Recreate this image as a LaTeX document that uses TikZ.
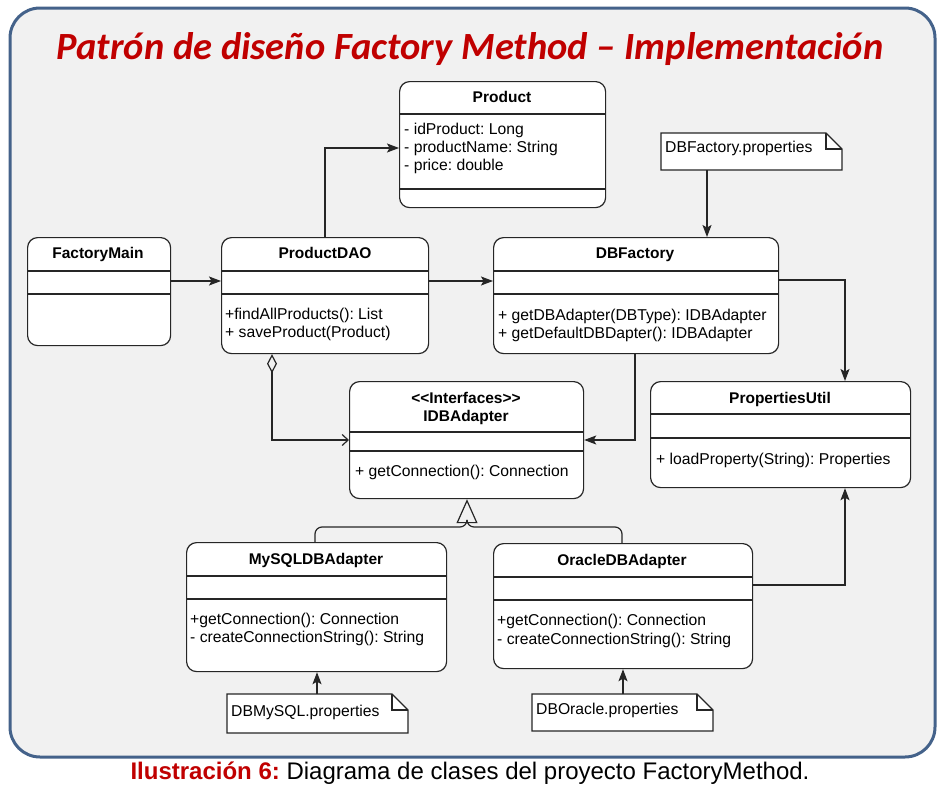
\documentclass[tikz,border=0pt]{standalone}
\usepackage{fontspec}
\setmainfont{Liberation Sans}
\newfontfamily\titlefont{Carlito}
\usetikzlibrary{arrows.meta}
\frenchspacing
\definecolor{titlered}{HTML}{C00000}
\definecolor{framecol}{HTML}{44628A}
\definecolor{bgfill}{HTML}{F1F1F1}
\tikzset{
  cls/.style={draw=black!85, fill=white, line width=1.2pt, rounded corners=10pt, anchor=north west, inner sep=0pt},
  sep/.style={draw=black!85, line width=1.2pt},
  ctitle/.style={font=\fontsize{15.5}{18}\selectfont\bfseries, inner sep=0pt, text height=11pt, text depth=3pt},
  member/.style={font=\fontsize{15.7}{18}\selectfont, inner sep=0pt, anchor=west, text height=11pt, text depth=3pt},
  conn/.style={draw=black!85, line width=1.2pt},
  arr/.style={conn, -{Stealth[length=12pt,width=9pt,inset=2.5pt]}},
  notebox/.style={draw=black!85, fill=white, line width=1.2pt},
}
\newcommand\notepath[4]{% left, top, right, bottom
  \filldraw[notebox] (#1,#2) -- (#3-16,#2) -- (#3,#2+16) -- (#3,#4) -- (#1,#4) -- cycle;
  \draw[notebox, fill=none] (#3-16,#2) -- (#3-16,#2+16) -- (#3,#2+16);
}
\begin{document}
\begin{tikzpicture}[x=1pt, y=-1pt]
\useasboundingbox (0,0) rectangle (946,787);
\fill[white] (0,0) rectangle (946,787);
\draw[framecol, line width=3pt, fill=bgfill, rounded corners=30pt] (10,8) rectangle (935,757);

% title and caption
\node[font=\titlefont\bfseries\itshape\fontsize{38.5}{46}\selectfont, text=titlered, inner sep=0pt] (title) at (470,49) {Patrón de diseño Factory Method – Implementación};
\node[font=\fontsize{24}{28}\selectfont, inner sep=0pt] (caption) at (470,773) {\textcolor{titlered}{\bfseries Ilustración 6:} Diagrama de clases del proyecto FactoryMethod.};

% Product
\node[cls, minimum width=206pt, minimum height=126pt] (product) at (399,81) {};
\draw[sep] (399,114) -- (605,114);
\draw[sep] (399,189) -- (605,189);
\node[ctitle] (productT) at (502,98) {Product};
\node[member] (productA1) at (404,130) {- idProduct: Long};
\node[member] (productA2) at (404,148) {- productName: String};
\node[member] (productA3) at (404,166) {- price: double};

% FactoryMain
\node[cls, minimum width=143pt, minimum height=108pt] (fm) at (27,237) {};
\draw[sep] (27,271) -- (170,271);
\draw[sep] (27,294) -- (170,294);
\node[ctitle] (fmT) at (98,254) {FactoryMain};

% ProductDAO
\node[cls, minimum width=207pt, minimum height=116pt] (dao) at (221,237) {};
\draw[sep] (221,271) -- (428,271);
\draw[sep] (221,294) -- (428,294);
\node[ctitle] (daoT) at (325,254) {ProductDAO};
\node[member] (daoM1) at (225,315) {+findAllProducts(): List};
\node[member] (daoM2) at (225,333) {+ saveProduct(Product)};

% DBFactory
\node[cls, minimum width=285pt, minimum height=116pt] (dbf) at (493,237) {};
\draw[sep] (493,271) -- (778,271);
\draw[sep] (493,294) -- (778,294);
\node[ctitle] (dbfT) at (635,254) {DBFactory};
\node[member] (dbfM1) at (498,316) {+ getDBAdapter(DBType): IDBAdapter};
\node[member] (dbfM2) at (498,334) {+ getDefaultDBDapter(): IDBAdapter};

% IDBAdapter
\node[cls, minimum width=234pt, minimum height=117pt] (idb) at (349,381) {};
\draw[sep] (349,432) -- (583,432);
\draw[sep] (349,451) -- (583,451);
\node[ctitle] (idbS) at (466,399) {<{}<Interfaces>{}>};
\node[ctitle] (idbT) at (466,417) {IDBAdapter};
\node[member] (idbM1) at (355,472) {+ getConnection(): Connection};

% PropertiesUtil
\node[cls, minimum width=260pt, minimum height=106pt] (putil) at (650,381) {};
\draw[sep] (650,414) -- (910,414);
\draw[sep] (650,438) -- (910,438);
\node[ctitle] (putilT) at (780,399) {PropertiesUtil};
\node[member] (putilM1) at (656,460) {+ loadProperty(String): Properties};

% MySQLDBAdapter
\node[cls, minimum width=260pt, minimum height=129pt] (mysql) at (186,542) {};
\draw[sep] (186,576) -- (446,576);
\draw[sep] (186,599) -- (446,599);
\node[ctitle] (mysqlT) at (316,560) {MySQLDBAdapter};
\node[member] (mysqlM1) at (190,620) {+getConnection(): Connection};
\node[member] (mysqlM2) at (190,638) {- createConnectionString(): String};

% OracleDBAdapter
\node[cls, minimum width=259pt, minimum height=125pt] (oracle) at (493,543) {};
\draw[sep] (493,577) -- (752,577);
\draw[sep] (493,600) -- (752,600);
\node[ctitle] (oracleT) at (622,561) {OracleDBAdapter};
\node[member] (oracleM1) at (497,621) {+getConnection(): Connection};
\node[member] (oracleM2) at (497,640) {- createConnectionString(): String};

% notes
\notepath{661}{133}{842}{170}
\coordinate (dbfnote) at (707,170);
\node[member] (dbfnoteT) at (665,148) {DBFactory.properties};
\notepath{227}{694}{408}{733}
\coordinate (mysqlnote) at (317,694);
\node[member] (mysqlnoteT) at (231,712) {DBMySQL.properties};
\notepath{532}{694}{713}{731}
\coordinate (oraclenote) at (623,694);
\node[member] (oraclenoteT) at (536,710) {DBOracle.properties};

% connectors
\draw[arr] (fm.east |- 0,281) -- (dao.west |- 0,281);
\draw[arr] (dao.north -| 325,0) |- (product.west |- 0,148);
\draw[arr] (dao.east |- 0,281) -- (dbf.west |- 0,281);
\draw[arr] (dbfnote) -- (dbf.north -| dbfnote);
\draw[arr] (dbf.east |- 0,280) -| (putil.north -| 845,0);
\draw[arr] (dbf.south -| 635,0) |- (idb.east |- 0,440);
\draw[conn, {Diamond[open,length=19pt,width=10pt]}-{Straight Barb[length=6pt,width=11pt]}] (dao.south -| 272,0) |- (idb.west |- 0,440);
\draw[conn, rounded corners=7pt, -{Triangle[open,length=24pt,width=21pt]}] (mysql.north -| 315,0) |- (467,527) -- (idb.south -| 467,0);
\draw[conn, rounded corners=7pt] (oracle.north -| 622,0) |- (467,527) -- (467,522);
\draw[arr] (oracle.east |- 0,585) -| (putil.south -| 845,0);
\draw[arr] (mysqlnote) -- (mysql.south -| mysqlnote);
\draw[arr] (oraclenote) -- (oracle.south -| oraclenote);
\end{tikzpicture}
\end{document}
